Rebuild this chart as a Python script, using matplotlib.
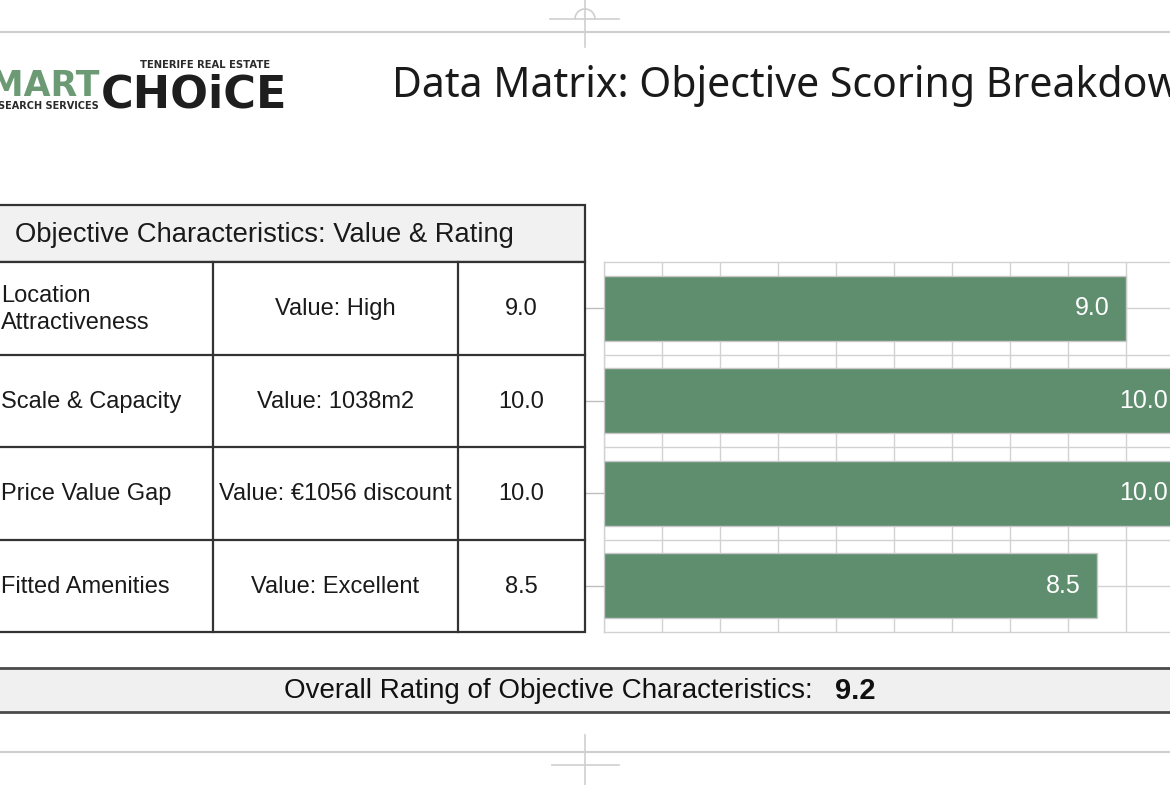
import numpy as np
import matplotlib.pyplot as plt
from matplotlib.patches import Rectangle, Arc

# chart data
criteria = ["Location\nAttractiveness", "Scale & Capacity", "Price Value Gap", "Fitted Amenities"]
value_notes = ["Value: High", "Value: 1038m2", "Value: €1056 discount", "Value: Excellent"]
ratings = [9.0, 10.0, 10.0, 8.5]
overall_rating = 9.2
x_ticks = list(range(0, 11))

BAR_GREEN = "#5f8e6e"
GRID = "#d2d2d2"
BORDER = "#333333"
TABLE_FONT = ["Liberation Sans", "DejaVu Sans"]

W, H = 1170, 785
fig = plt.figure(figsize=(W / 100, H / 100), dpi=100)
fig.patch.set_facecolor("white")

# ---- bar chart (right side) ----
top, bottom, left, right = 262, 632, 604, 1184
ax = fig.add_axes([left / W, 1 - bottom / H, (right - left) / W, (bottom - top) / H])
y = np.arange(len(ratings))
ax.barh(y, ratings, height=0.70, color=BAR_GREEN, edgecolor="#c8c8c8", linewidth=1, zorder=3)
ax.set_xlim(0, 10)
ax.set_ylim(len(ratings) - 0.5, -0.5)
ax.set_xticks(x_ticks)
ax.set_yticks(y)
ax.set_yticks(np.arange(len(ratings) - 1) + 0.5, minor=True)
ax.grid(True, which="major", axis="both", color=GRID, linewidth=1, zorder=0)
ax.grid(True, which="minor", axis="y", color=GRID, linewidth=1, zorder=0)
ax.set_axisbelow(True)
ax.tick_params(axis="x", length=0, labelbottom=False)
ax.tick_params(axis="y", which="major", direction="out", length=14, color="#bdbdbd",
               width=1, labelleft=False)
ax.tick_params(axis="y", which="minor", length=0)
for s in ax.spines.values():
    s.set_color(GRID)
    s.set_linewidth(1)

for yi, r in zip(y, ratings):
    ax.text(r - 0.28, yi, f"{r:.1f}", ha="right", va="center", color="white",
            fontsize=18, family=TABLE_FONT, zorder=4)

# ---- overlay in pixel space for table, title, decorations ----
ov = fig.add_axes([0, 0, 1, 1], zorder=5)
ov.set_xlim(0, W)
ov.set_ylim(H, 0)
ov.axis("off")
ov.patch.set_alpha(0)

# decorative guide lines
deco = "#cfcfcf"
ov.plot([0, W], [32, 32], color=deco, lw=1.5)
ov.plot([585, 585], [0, 47], color=deco, lw=1.2)
ov.plot([550, 619], [19, 19], color=deco, lw=1.2)
ov.add_patch(Arc((585, 19), 20, 20, theta1=180, theta2=360, color=deco, lw=1.2))
ov.plot([0, W], [752, 752], color=deco, lw=1.5)
ov.plot([585, 585], [735, 785], color=deco, lw=1.2)
ov.plot([552, 619], [765, 765], color=deco, lw=1.2)

# logo
ov.text(100, 96, "SMART", ha="right", va="baseline", fontsize=25, fontweight="heavy",
        color="#6b9a74", family="DejaVu Sans")
ov.text(-2, 109, "SEARCH SERVICES", ha="left", va="baseline", fontsize=7.0, fontweight="bold",
        color="#2a2a2a", family="DejaVu Sans")
ov.text(140, 68, "TENERIFE REAL ESTATE", ha="left", va="baseline", fontsize=7.2, fontweight="bold",
        color="#2a2a2a", family="DejaVu Sans")
ov.text(101, 107, "CHOiCE", ha="left", va="baseline", fontsize=32, fontweight="heavy",
        color="#1e1e1e", family="DejaVu Sans")

# title
ov.text(392, 97, "Data Matrix: Objective Scoring Breakdown", ha="left", va="baseline",
        fontsize=29.5, color="#1a1a1a", family=["Noto Sans", "DejaVu Sans"])

# table
tab_left, tab_right = -10, 585
head_top = 205
row_edges = np.linspace(top, bottom, len(ratings) + 1)
col1, col2 = 213, 458
ov.add_patch(Rectangle((tab_left, head_top), tab_right - tab_left, top - head_top,
                       facecolor="#f1f1f1", edgecolor=BORDER, lw=1.6))
ov.text(15, (head_top + top) / 2 + 1, "Objective Characteristics: Value & Rating", ha="left",
        va="center", fontsize=19.7, color="#1a1a1a", family=TABLE_FONT)
ov.add_patch(Rectangle((tab_left, top), tab_right - tab_left, bottom - top,
                       facecolor="white", edgecolor=BORDER, lw=1.6))
for e in row_edges[1:-1]:
    ov.plot([tab_left, tab_right], [e, e], color=BORDER, lw=1.6)
for cx in (col1, col2):
    ov.plot([cx, cx], [top, bottom], color=BORDER, lw=1.6)

for i, (name, note, r) in enumerate(zip(criteria, value_notes, ratings)):
    cy = (row_edges[i] + row_edges[i + 1]) / 2
    ov.text(1, cy + 1, name, ha="left", va="center", fontsize=17, color="#1a1a1a",
            family=TABLE_FONT, linespacing=1.3)
    ov.text((col1 + col2) / 2, cy + 1, note, ha="center", va="center", fontsize=17,
            color="#1a1a1a", family=TABLE_FONT)
    ov.text((col2 + tab_right) / 2, cy + 1, f"{r:.1f}", ha="center", va="center",
            fontsize=17, color="#1a1a1a", family=TABLE_FONT)

# overall rating band
ov.add_patch(Rectangle((-10, 668), W + 20, 44, facecolor="#f0f0f0", edgecolor="none"))
ov.plot([-10, W + 10], [668, 668], color="#4a4a4a", lw=2)
ov.plot([-10, W + 10], [712, 712], color="#4a4a4a", lw=2)
ov.text(813, 691, "Overall Rating of Objective Characteristics:", ha="right", va="center",
        fontsize=20, color="#111111", family=TABLE_FONT)
ov.text(835, 691, f"{overall_rating:.1f}", ha="left", va="center", fontsize=21,
        fontweight="bold", color="#111111", family=TABLE_FONT)

fig.savefig("out.png", dpi=100)
